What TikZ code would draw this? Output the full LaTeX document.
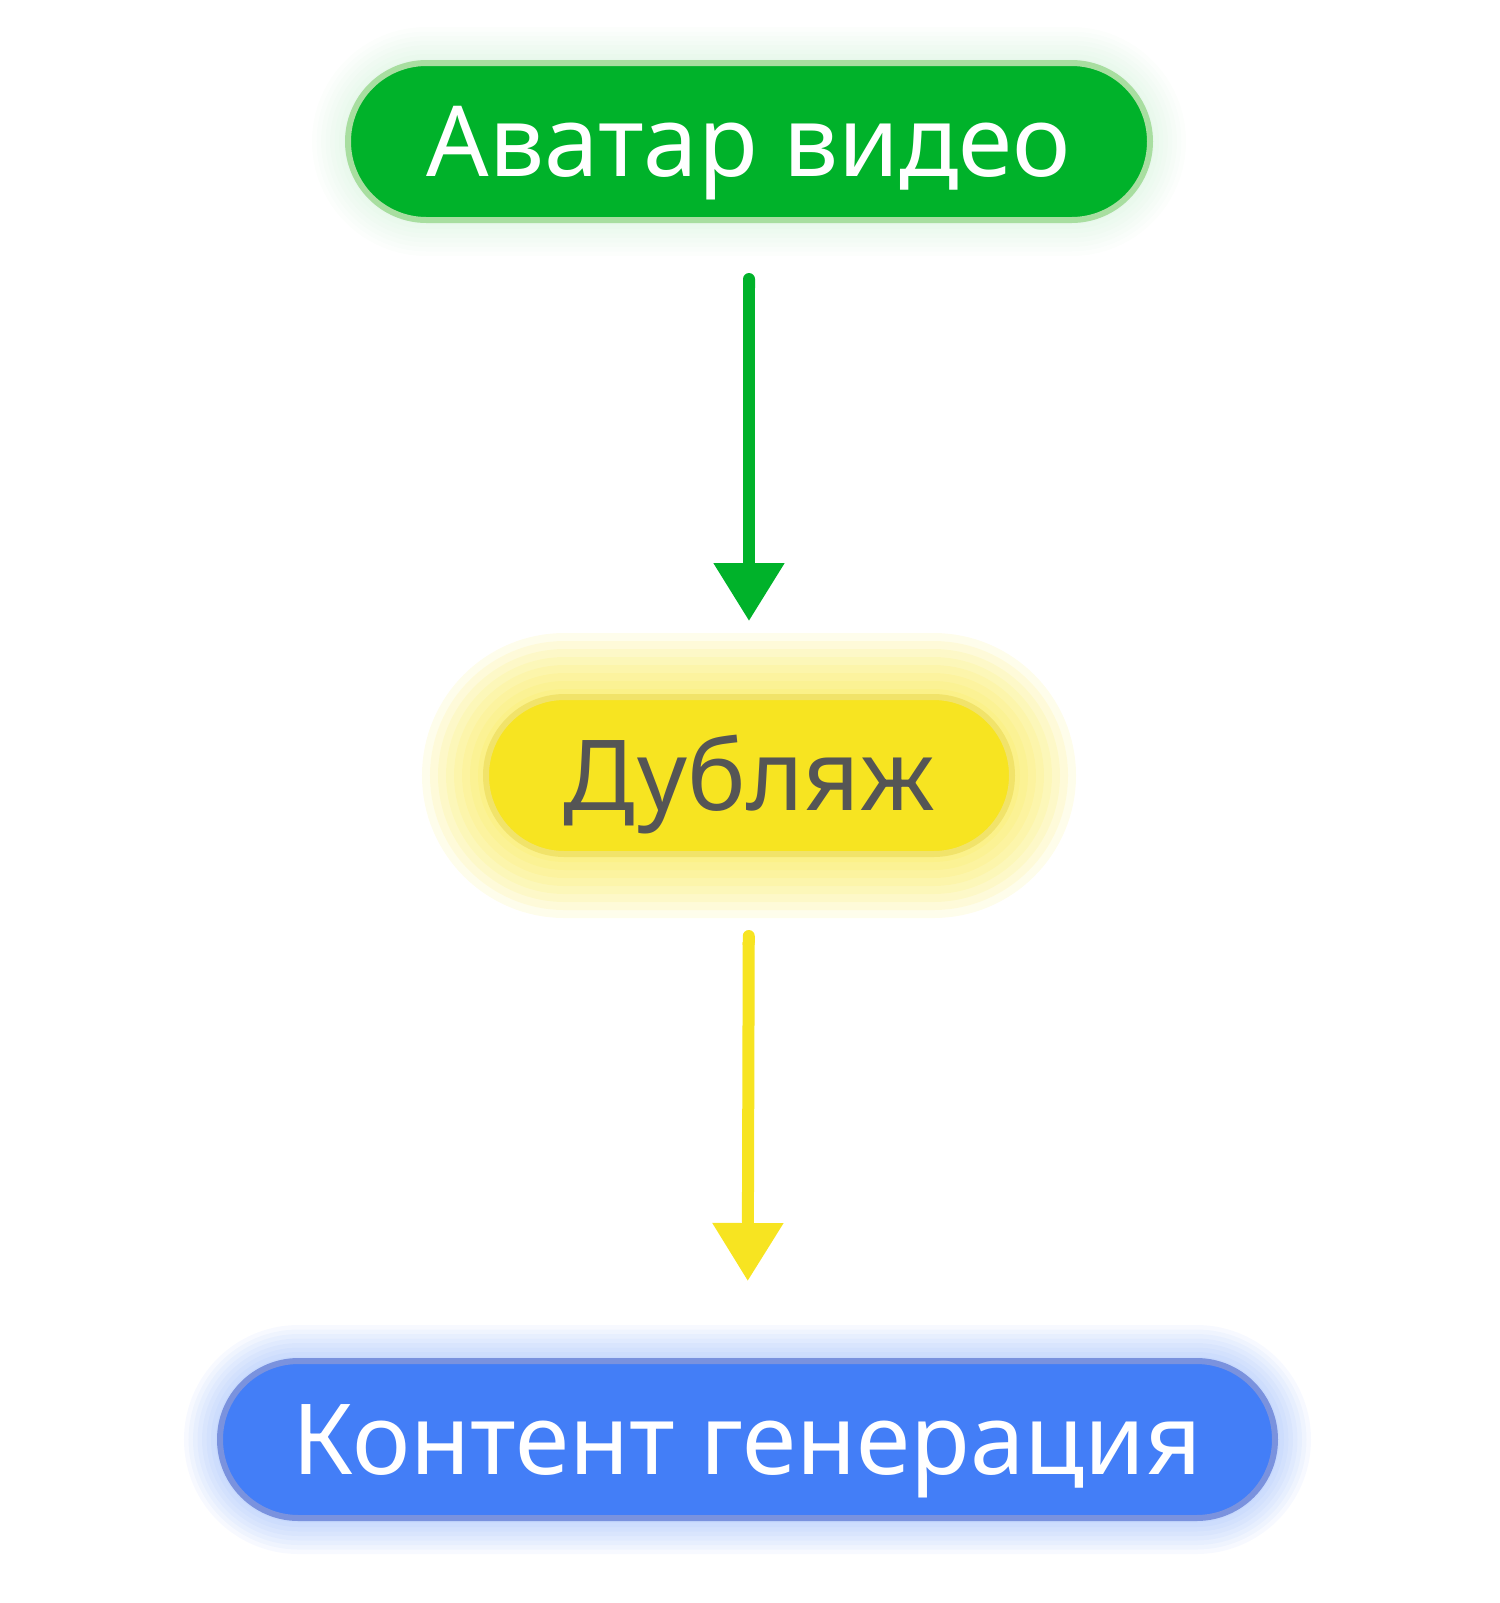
\documentclass[tikz,border=0pt]{standalone}
\usepackage{fontspec}
\setmainfont{Noto Sans}
\usetikzlibrary{shapes.misc,arrows.meta}

\definecolor{avatargreen}{HTML}{00B22A}
\definecolor{avatarrim}{HTML}{A8DEA0}
\definecolor{dubyellow}{HTML}{F7E421}
\definecolor{dubrim}{HTML}{F1E36A}
\definecolor{dubtext}{HTML}{555555}
\definecolor{contentblue}{HTML}{437EF7}
\definecolor{contentrim}{HTML}{7A92DE}

\def\glowop{0.05}
\tikzset{
  pill/.style={rounded rectangle,line width=3pt,inner sep=0pt,
    font=\fontsize{49}{54}\selectfont,text height=35pt,text depth=0pt,
    minimum height=78.5pt},
  glow opacity/.code={\def\glowop{#1}},
  glow/.style 2 args={
    preaction={draw=#1,line width=2*#2,draw opacity=\glowop},
    preaction={draw=#1,line width=1.75*#2,draw opacity=\glowop},
    preaction={draw=#1,line width=1.5*#2,draw opacity=\glowop},
    preaction={draw=#1,line width=1.25*#2,draw opacity=\glowop},
    preaction={draw=#1,line width=#2,draw opacity=\glowop},
    preaction={draw=#1,line width=0.75*#2,draw opacity=\glowop},
    preaction={draw=#1,line width=0.5*#2,draw opacity=\glowop},
    preaction={draw=#1,line width=0.25*#2,draw opacity=\glowop}},
  flow/.style={line width=6pt,{Round Cap[]}-{Triangle[width=34pt,length=29pt]}}
}

\begin{document}
\begin{tikzpicture}[x=0.5pt,y=-0.5pt]
\useasboundingbox (0,0) rectangle (1500,1603);

\node[pill,glow opacity=0.012,glow={avatargreen}{18pt},fill=avatargreen,draw=avatarrim,text=white,minimum width=401pt] (avatar) at (749,141.5) {Аватар видео};
\node[pill,glow opacity=0.09,glow={dubyellow}{32pt},fill=dubyellow,draw=dubrim,text=dubtext,minimum width=263pt] (dub) at (749,775.5) {Дубляж};
\node[pill,glow opacity=0.045,glow={contentblue}{18pt},fill=contentblue,draw=contentrim,text=white,minimum width=527.5pt] (content) at (747.5,1439.5) {Контент генерация};

\draw[flow,draw=avatargreen,fill=avatargreen,shorten <=25pt,shorten >=36.5pt] (avatar.south) -- (dub.north);
\draw[flow,draw=dubyellow,fill=dubyellow,shorten <=36.5pt,shorten >=38.5pt] (dub.south) -- (content.north);
\end{tikzpicture}
\end{document}
